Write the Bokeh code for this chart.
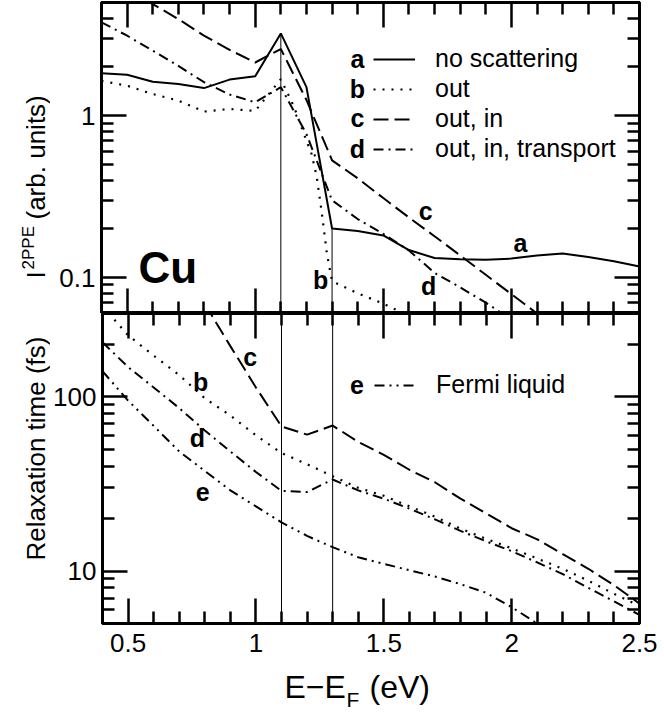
import math
from bokeh.plotting import figure
from bokeh.layouts import column, row
from bokeh.models import (Range1d, LinearAxis, LogAxis, FixedTicker,
                          NumeralTickFormatter, Label, Legend, LegendItem, Span)
from bokeh.embed import file_html
from bokeh.resources import INLINE

# ---------------- data ----------------
# top panel: 2PPE intensity (arb. units)
E = [0.4, 0.5, 0.6, 0.7, 0.8, 0.9, 1.0, 1.1, 1.2, 1.3, 1.4, 1.5, 1.6, 1.7, 1.8, 1.9, 2.0, 2.1, 2.2, 2.3, 2.4, 2.5]
I_a = [1.83, 1.79, 1.62, 1.57, 1.48, 1.67, 1.75, 3.22, 1.50, 0.201, 0.194, 0.182, 0.148, 0.132, 0.130, 0.129,
       0.131, 0.137, 0.141, 0.134, 0.126, 0.117]
E_b = [0.4, 0.5, 0.6, 0.7, 0.8, 0.9, 1.0, 1.1, 1.15, 1.2, 1.22, 1.24, 1.26, 1.28, 1.3, 1.4, 1.5, 1.6]
I_b = [1.64, 1.53, 1.36, 1.24, 1.06, 1.10, 1.07, 1.68, 1.15, 0.70, 0.58, 0.42, 0.25, 0.14, 0.095, 0.080, 0.069, 0.058]
E_c = [0.5, 0.6, 0.7, 0.8, 0.9, 1.0, 1.1, 1.2, 1.3, 1.4, 1.5, 1.6, 1.7, 1.8, 1.9, 2.0, 2.1, 2.2]
I_c = [6.0, 4.89, 3.95, 3.12, 2.55, 2.13, 2.58, 1.25, 0.53, 0.41, 0.31, 0.235, 0.18, 0.137, 0.104, 0.079, 0.060, 0.046]
E_d = [0.4, 0.5, 0.6, 0.7, 0.8, 0.9, 1.0, 1.1, 1.2, 1.3, 1.4, 1.5, 1.6, 1.7, 1.8, 1.9, 2.0]
I_d = [3.77, 3.12, 2.52, 2.03, 1.61, 1.35, 1.21, 1.50, 0.77, 0.30, 0.23, 0.186, 0.147, 0.107, 0.087, 0.070, 0.055]

# bottom panel: relaxation time (fs)
E_tau = E
tau_b = [330, 225, 172, 133, 98, 78, 60, 47.5, 41, 35, 30, 27, 23.5, 20.5, 17.5, 15.3, 13.5, 11.8, 10.3, 8.8, 7.4, 6.3]
E_tau_c = [0.8, 0.9, 1.0, 1.1, 1.2, 1.3, 1.4, 1.5, 1.6, 1.7, 1.8, 1.9, 2.0, 2.1, 2.2, 2.3, 2.4, 2.5]
tau_c = [340, 195, 113, 67.5, 60.6, 68.3, 55, 46.4, 38.1, 32.3, 26.0, 21.4, 17.6, 15.2, 12.5, 10.3, 8.3, 6.5]
tau_d = [205, 148, 113, 86, 64, 48.5, 37, 28.8, 28.4, 33.5, 29.0, 26.0, 22.8, 19.8, 17.0, 14.8, 13.0, 11.2, 9.6,
         8.0, 6.7, 5.6]
E_tau_e = [0.4, 0.5, 0.6, 0.7, 0.8, 0.9, 1.0, 1.1, 1.2, 1.3, 1.4, 1.5, 1.6, 1.7, 1.8, 1.9, 2.0, 2.1, 2.2]
tau_e = [140, 95, 68, 48.5, 37.5, 29, 23.5, 19.0, 15.9, 13.7, 12.0, 11.0, 10.1, 9.3, 8.4, 7.5, 6.2, 5.0, 4.1]

marker_E = [1.1, 1.3]           # vertical guide lines
legend_top = ["no scattering", "out", "out, in", "out, in, transport"]
legend_bottom = ["Fermi liquid"]
letters_top = ["a", "b", "c", "d"]

# tick positions
x_major = [0.5, 1.0, 1.5, 2.0, 2.5]
x_minor = [round(0.4 + 0.1 * i, 1) for i in range(22) if round(0.4 + 0.1 * i, 1) not in x_major]
top_major = [0.1, 1.0]
top_minor = [m * 10.0 ** e for e in (-2, -1, 0) for m in range(2, 10)]
bot_major = [10.0, 100.0]
bot_minor = [m * 10.0 ** e for e in (0, 1, 2) for m in range(2, 10)]

FONT = "Liberation Sans"
TICK_FS = "26px"
W_LAB = 50          # width of the strip holding the y-axis titles
W_MAIN = 664 - W_LAB


def style(ax):
    ax.axis_line_width = 3
    ax.axis_line_color = "black"
    ax.major_tick_in = 25
    ax.major_tick_out = 0
    ax.minor_tick_out = 0
    ax.major_tick_line_width = 2.5
    ax.minor_tick_line_width = 2.5
    ax.major_tick_line_color = "black"
    ax.minor_tick_line_color = "black"
    ax.major_label_text_font = FONT
    ax.major_label_text_color = "black"
    ax.major_label_text_font_size = TICK_FS


def add_axes(p, side, cls, major, minor, labels=False, standoff=6):
    if labels:
        ax = cls(ticker=FixedTicker(ticks=major, minor_ticks=minor),
                 formatter=NumeralTickFormatter(format="0.[0]"))
        style(ax)
        ax.minor_tick_in = 12
        ax.major_label_standoff = standoff
        p.add_layout(ax, side)
    else:
        for ticks, length in ((minor, 12), (major, 25)):
            ax = cls(ticker=FixedTicker(ticks=[], minor_ticks=ticks))
            style(ax)
            ax.minor_tick_in = length
            ax.major_label_standoff = 0
            p.add_layout(ax, side)


def make_fig(height, y_range, top_border, bottom_border, x_range):
    p = figure(width=W_MAIN, height=height, x_range=x_range, y_range=y_range,
               y_axis_type="log", x_axis_location=None, y_axis_location=None,
               output_backend="svg", toolbar_location=None,
               min_border_left=101 - W_LAB, min_border_right=25,
               min_border_top=top_border, min_border_bottom=bottom_border)
    p.grid.visible = False
    p.outline_line_color = "black"
    p.outline_line_width = 3
    p.background_fill_color = "white"
    p.border_fill_color = "white"
    return p


def text_fig(width, height, xr, yr, bottom_border=0, top_border=0):
    p = figure(width=width, height=height, x_range=Range1d(*xr), y_range=Range1d(*yr),
               x_axis_location=None, y_axis_location=None,
               output_backend="svg", toolbar_location=None,
               min_border_left=0, min_border_right=0,
               min_border_top=top_border, min_border_bottom=bottom_border)
    p.grid.visible = False
    p.outline_line_color = None
    p.background_fill_color = "white"
    p.border_fill_color = "white"
    return p


def lab(p, x, y, text, size, bold=False, align="center", angle=0.0):
    p.add_layout(Label(x=x, y=y, text=text, angle=angle, text_font=FONT, text_font_size=size,
                       text_font_style="bold" if bold else "normal", text_color="black",
                       text_align=align, text_baseline="middle"))


xr = Range1d(0.4, 2.5)

# ---------------- top panel ----------------
p1 = make_fig(313, Range1d(0.06, 5.0), 2, 0, xr)
add_axes(p1, "left", LogAxis, top_major, top_minor, labels=True)
add_axes(p1, "right", LogAxis, top_major, top_minor)
add_axes(p1, "above", LinearAxis, x_major, x_minor)
add_axes(p1, "below", LinearAxis, x_major, x_minor)

a_at = [I_a[E.index(x)] for x in marker_E]
p1.segment(x0=marker_E, y0=[p1.y_range.start] * len(marker_E), x1=marker_E, y1=a_at,
           line_color="black", line_width=1)

ra = p1.line(E, I_a, line_color="black", line_width=2)
rb = p1.line(E_b, I_b, line_color="black", line_width=2.2, line_dash="2 7")
rc = p1.line(E_c, I_c, line_color="black", line_width=2, line_dash="15 6")
rd = p1.line(E_d, I_d, line_color="black", line_width=2, line_dash="10 5 2 5")

leg1 = Legend(items=[LegendItem(label=t, renderers=[r]) for t, r in zip(legend_top, [ra, rb, rc, rd])],
              location=(272, 150), glyph_width=42, glyph_height=28, label_height=28,
              label_standoff=20, spacing=1, padding=0, margin=0,
              border_line_color=None, background_fill_alpha=0,
              label_text_font=FONT, label_text_font_size="25px", label_text_color="black")
p1.add_layout(leg1)

for t, yv in zip(letters_top, [2.25, 1.47, 0.972, 0.626]):
    lab(p1, 1.399, yv, t, "25px", bold=True)

for t, xv, yv in [("b", 1.255, 0.096), ("c", 1.665, 0.259), ("a", 2.035, 0.164), ("d", 1.677, 0.089)]:
    lab(p1, xv, yv, t, "25px", bold=True)

lab(p1, 0.544, 0.1158, "Cu", "44px", bold=True, align="left")

# strip with the rotated y title  I^2PPE (arb. units)   (y measured up from the frame bottom, px)
yl1 = text_fig(W_LAB, 313, (0, W_LAB), (0, 311), top_border=2)
lab(yl1, 35, 35, "I", "26px", align="left", angle=math.pi / 2)
lab(yl1, 28, 44, "2PPE", "17px", align="left", angle=math.pi / 2)
lab(yl1, 35, 94, "(arb. units)", "26px", align="left", angle=math.pi / 2)

# ---------------- bottom panel ----------------
p2 = make_fig(352, Range1d(5, 300), 0, 42, xr)
add_axes(p2, "left", LogAxis, bot_major, bot_minor, labels=True)
add_axes(p2, "right", LogAxis, bot_major, bot_minor)
add_axes(p2, "above", LinearAxis, x_major, x_minor)
add_axes(p2, "below", LinearAxis, x_major, x_minor, labels=True, standoff=10)

for xv in marker_E:
    p2.add_layout(Span(location=xv, dimension="height", line_color="black", line_width=1))

p2.line(E_tau, tau_b, line_color="black", line_width=2.2, line_dash="2 7")
p2.line(E_tau_c, tau_c, line_color="black", line_width=2, line_dash="15 6")
p2.line(E_tau, tau_d, line_color="black", line_width=2, line_dash="10 5 2 5")
re = p2.line(E_tau_e, tau_e, line_color="black", line_width=2, line_dash="10 5 2 5 2 5")

leg2 = Legend(items=[LegendItem(label=legend_bottom[0], renderers=[re])],
              location=(272, 224), glyph_width=42, glyph_height=28, label_height=28,
              label_standoff=20, spacing=1, padding=0, margin=0,
              border_line_color=None, background_fill_alpha=0,
              label_text_font=FONT, label_text_font_size="25px", label_text_color="black")
p2.add_layout(leg2)
lab(p2, 1.395, 116, "e", "25px", bold=True)

for t, xv, yv in [("c", 0.978, 170), ("b", 0.784, 122), ("d", 0.771, 58.3), ("e", 0.792, 28.3)]:
    lab(p2, xv, yv, t, "25px", bold=True)

yl2 = text_fig(W_LAB, 352, (0, W_LAB), (0, 310), bottom_border=42)
lab(yl2, 35, 63, "Relaxation time (fs)", "26px", align="left", angle=math.pi / 2)

# ---------------- x title strip: E-E_F (eV) ----------------
xl = text_fig(664, 48, (0, 664), (0, 48))
lab(xl, 284, 27, "E\u2212E", "32px", align="left")
lab(xl, 346, 14.3, "F", "21px", align="left")
lab(xl, 369, 27, "(eV)", "32px", align="left")

layout = column(row(yl1, p1), row(yl2, p2), xl)
open("out.html", "w").write(file_html(layout, INLINE))
